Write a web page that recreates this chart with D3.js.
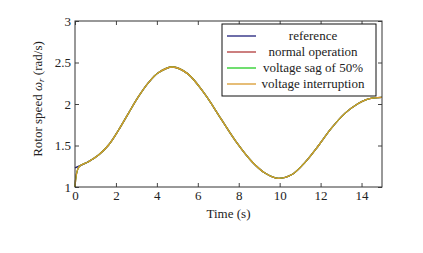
<!DOCTYPE html>
<html>
<head>
<meta charset="utf-8">
<script src="https://cdn.jsdelivr.net/npm/d3@7"></script>
<style>
  body { margin: 0; background: #fff; }
  text { font-family: "Liberation Serif", "DejaVu Serif", serif; fill: #222; }
</style>
</head>
<body>
<div id="chart"></div>
<script>
// data
const seriesNames = ["reference", "normal operation", "voltage sag of 50%", "voltage interruption"];
const seriesColors = ["#1f1f7a", "#b03a3a", "#22cc22", "#d9992e"];

const timeRef = [0, 0.66, 1.15, 1.64, 2.13, 2.61, 3.1, 3.59, 4.07, 4.77, 5.5, 6.31, 7.12, 7.93, 8.65, 9.3, 9.92, 10.6, 11.25, 11.9, 12.5, 13.2, 13.8, 14.2, 14.6, 15];
const speedRef = [1.23, 1.305, 1.385, 1.506, 1.687, 1.888, 2.088, 2.257, 2.377, 2.446, 2.366, 2.13, 1.827, 1.526, 1.305, 1.165, 1.105, 1.15, 1.3, 1.5, 1.7, 1.89, 2.0, 2.05, 2.075, 2.08];

const timeDrive = [0, 0.2, 0.66, 1.15, 1.64, 2.13, 2.61, 3.1, 3.59, 4.07, 4.77, 5.5, 6.31, 7.12, 7.93, 8.65, 9.3, 9.92, 10.6, 11.25, 11.9, 12.5, 13.2, 13.8, 14.2, 14.6, 15];
const speedDrive = [1.0, 1.245, 1.305, 1.385, 1.506, 1.687, 1.888, 2.088, 2.257, 2.377, 2.446, 2.366, 2.13, 1.827, 1.526, 1.305, 1.165, 1.105, 1.15, 1.3, 1.5, 1.7, 1.89, 2.0, 2.05, 2.075, 2.08];

const xTicks = [0, 2, 4, 6, 8, 10, 12, 14];
const yTicks = [1, 1.5, 2, 2.5, 3];

const seriesData = [
    timeRef.map((t, i) => [t, speedRef[i]]),
    timeDrive.map((t, i) => [t, speedDrive[i]]),
    timeDrive.map((t, i) => [t, speedDrive[i]]),
    timeDrive.map((t, i) => [t, speedDrive[i]])
];

const width = 423, height = 253;
const margin = {top: 21, right: 41, bottom: 66, left: 75};
const w = width - margin.left - margin.right;
const h = height - margin.top - margin.bottom;
const fontSize = 13;

const svg = d3.select("#chart").append("svg")
    .attr("width", width)
    .attr("height", height);

const g = svg.append("g")
    .attr("transform", `translate(${margin.left}, ${margin.top})`);

const x = d3.scaleLinear().domain([0, 15]).range([0, w]);
const y = d3.scaleLinear().domain([1, 3]).range([h, 0]);

// inward ticks on all four sides
const tickLen = 4;
const axisStyle = (sel) => {
    sel.select(".domain").remove();
    sel.selectAll(".tick line").attr("stroke", "#444");
    sel.selectAll(".tick text").attr("font-size", fontSize).attr("font-family", "Liberation Serif, serif").attr("fill", "#222");
};

g.append("g").attr("transform", `translate(0, ${h})`)
    .call(d3.axisBottom(x).tickValues(xTicks).tickSize(-tickLen).tickPadding(4).tickFormat(d3.format("d")))
    .call(axisStyle);
g.append("g")
    .call(d3.axisTop(x).tickValues(xTicks).tickSize(-tickLen).tickFormat(""))
    .call(axisStyle);
g.append("g")
    .call(d3.axisLeft(y).tickValues(yTicks).tickSize(-tickLen).tickPadding(4).tickFormat(d => d))
    .call(axisStyle);
g.append("g").attr("transform", `translate(${w}, 0)`)
    .call(d3.axisRight(y).tickValues(yTicks).tickSize(-tickLen).tickFormat(""))
    .call(axisStyle);

// lines
const line = d3.line()
    .x(d => x(d[0]))
    .y(d => y(d[1]))
    .curve(d3.curveCatmullRom.alpha(0.5));

g.selectAll(".series")
    .data(seriesData)
    .enter().append("path")
    .attr("class", "series")
    .attr("fill", "none")
    .attr("stroke", (d, i) => seriesColors[i])
    .attr("stroke-width", 1.3)
    .attr("d", line);

// frame
g.append("rect")
    .attr("width", w).attr("height", h)
    .attr("fill", "none").attr("stroke", "#333").attr("stroke-width", 1);

// axis labels
g.append("text")
    .attr("x", w / 2).attr("y", h + 31)
    .attr("text-anchor", "middle")
    .attr("font-size", fontSize)
    .text("Time (s)");

g.append("text")
    .attr("transform", `translate(-33, ${h / 2 - 5}) rotate(-90)`)
    .attr("text-anchor", "middle")
    .attr("font-size", fontSize)
    .html('Rotor speed <tspan font-style="italic">ω</tspan><tspan font-style="italic" font-size="9" dy="2">r</tspan><tspan dy="-2"> (rad/s)</tspan>');

// legend
const legend = g.append("g").attr("transform", "translate(147, 3)");
const legW = 154, legH = 72;
legend.append("rect")
    .attr("width", legW).attr("height", legH)
    .attr("fill", "#fff").attr("stroke", "#111").attr("stroke-width", 1);

const rows = legend.selectAll(".row")
    .data(seriesNames)
    .enter().append("g")
    .attr("transform", (d, i) => `translate(0, ${12 + i * 16})`);

rows.append("line")
    .attr("x1", 5).attr("x2", 34)
    .attr("stroke", (d, i) => seriesColors[i])
    .attr("stroke-width", 1.3);

rows.append("text")
    .attr("x", 91).attr("y", 4)
    .attr("text-anchor", "middle")
    .attr("font-size", fontSize)
    .text(d => d);
</script>
</body>
</html>
